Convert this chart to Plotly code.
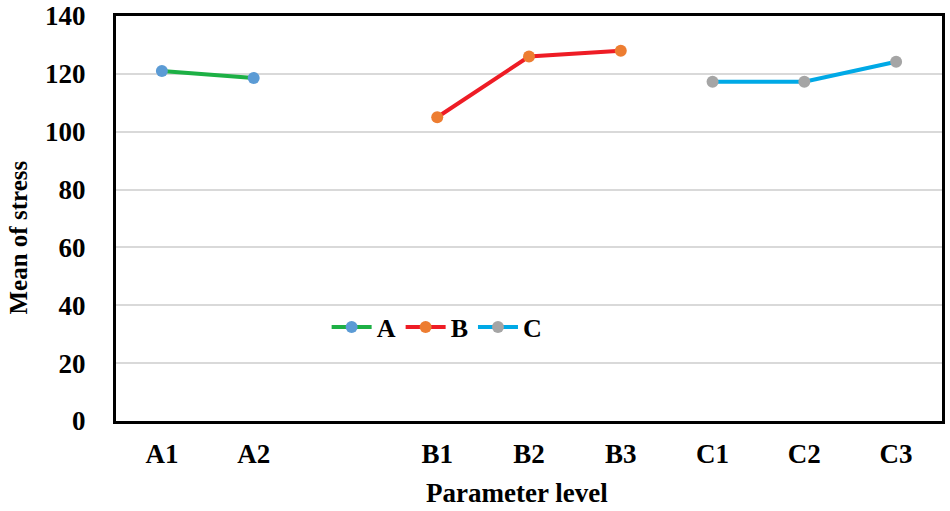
import plotly.graph_objects as go

categories = ["A1", "A2", "", "B1", "B2", "B3", "C1", "C2", "C3"]
a_levels = ["A1", "A2"]
a_values = [121.0, 118.6]
b_levels = ["B1", "B2", "B3"]
b_values = [105.0, 126.0, 128.0]
c_levels = ["C1", "C2", "C3"]
c_values = [117.3, 117.3, 124.2]
y_ticks = [0, 20, 40, 60, 80, 100, 120, 140]

font_family = "Liberation Serif, Times New Roman, serif"

def pos(levels):
    return [categories.index(l) for l in levels]

fig = go.Figure()
series = [
    ("A", a_levels, a_values, "#1db045", "#5b9bd5"),
    ("B", b_levels, b_values, "#ee1c25", "#ed7d31"),
    ("C", c_levels, c_values, "#00a9e6", "#a5a5a5"),
]
for name, lv, vals, lc, mc in series:
    fig.add_trace(go.Scatter(
        x=pos(lv), y=vals, name=name, mode="lines+markers",
        line=dict(color=lc, width=4),
        marker=dict(color=mc, size=12),
    ))

fig.update_layout(
    width=950, height=511,
    margin=dict(l=116, r=8, t=16, b=90),
    plot_bgcolor="white", paper_bgcolor="white",
    font=dict(family=font_family, color="black", size=26),
    showlegend=True,
    legend=dict(
        orientation="h", x=0.255, y=0.232, xanchor="left", yanchor="middle",
        bgcolor="rgba(0,0,0,0)",
        font=dict(family=font_family, size=26, color="black", weight="bold"),
        itemwidth=40, tracegroupgap=0,
    ),
    annotations=[
        dict(text="<b>Mean of stress</b>", xref="paper", yref="paper",
             x=-0.118, y=0.452, xanchor="center", yanchor="middle",
             textangle=-90, showarrow=False, font=dict(size=25)),
        dict(text="<b>Parameter level</b>", xref="paper", yref="paper",
             x=0.486, y=-0.178, xanchor="center", yanchor="middle",
             showarrow=False, font=dict(size=27)),
    ],
)
fig.update_xaxes(
    range=[-0.5, len(categories) - 0.5],
    tickmode="array",
    tickvals=list(range(len(categories))),
    ticktext=["<b>%s</b>" % c for c in categories],
    showgrid=False, zeroline=False,
    showline=True, linecolor="black", linewidth=3, mirror=True,
    ticks="", ticklabelstandoff=7,
    tickfont=dict(size=27),
    automargin=False,
)
fig.update_yaxes(
    range=[0, 140],
    tickmode="array", tickvals=y_ticks,
    ticktext=["<b>%d</b>" % v for v in y_ticks],
    showgrid=True, gridcolor="#d9d9d9", gridwidth=1.5,
    zeroline=False,
    showline=True, linecolor="black", linewidth=3, mirror=True,
    ticks="", ticklabelstandoff=22, ticklabeloverflow="allow",
    tickfont=dict(size=27),
    automargin=False,
)

fig.write_html("out.html", config={"displayModeBar": False},
               post_script="document.body.style.margin='0';")
